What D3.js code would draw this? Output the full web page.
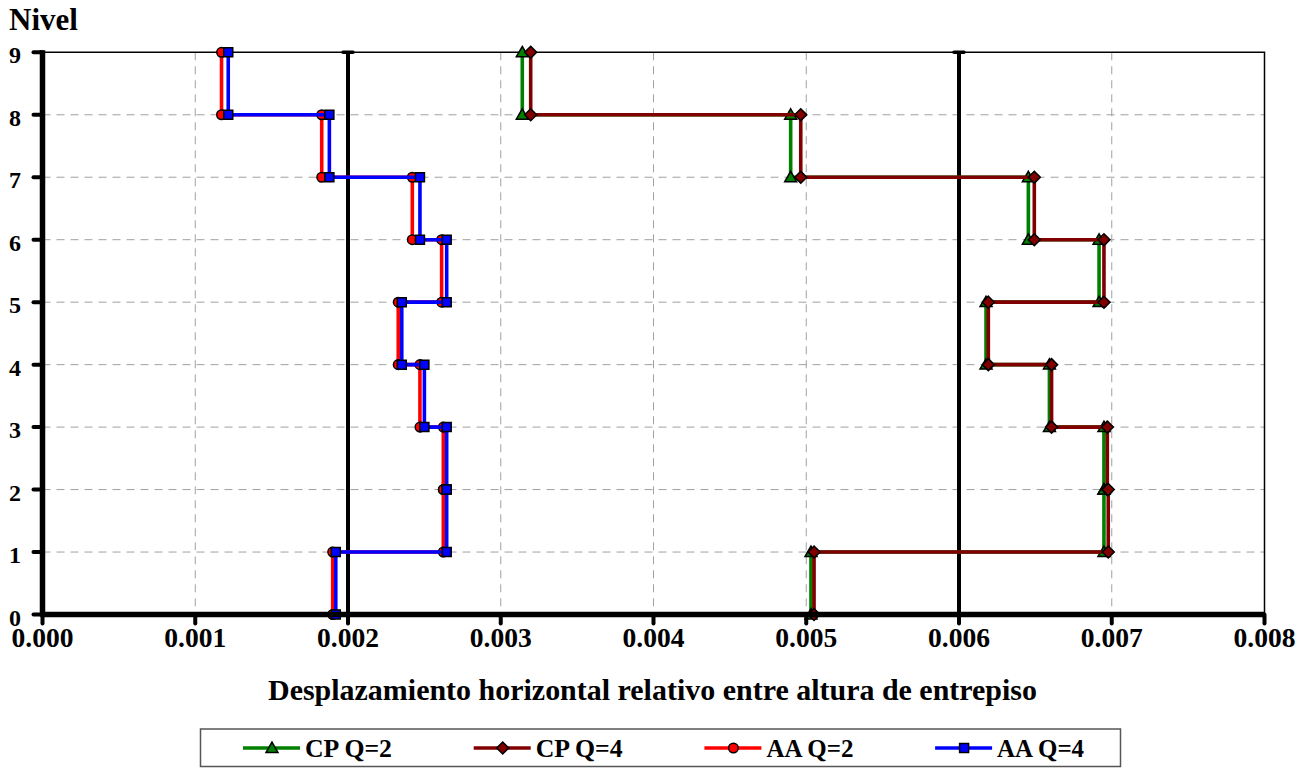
<!DOCTYPE html>
<html>
<head>
<meta charset="utf-8">
<script src="https://cdn.jsdelivr.net/npm/d3@7/dist/d3.min.js"></script>
<style>
  html, body { margin: 0; padding: 0; background: #fff; }
  svg { display: block; }
  text { font-family: "Liberation Serif", "Times New Roman", serif; font-weight: bold; fill: #000; }
</style>
</head>
<body>
<svg id="chart" width="1309" height="768"></svg>
<script>
// ---- Data (drift per story, stories 1..9) ----
const stories = [1, 2, 3, 4, 5, 6, 7, 8, 9];
const cpQ2 = [0.005031, 0.006949, 0.006949, 0.006592, 0.006177, 0.006917, 0.006454, 0.004898, 0.003141];
const cpQ4 = [0.005051, 0.006977, 0.006971, 0.006606, 0.006192, 0.006949, 0.006493, 0.004964, 0.003196];
const aaQ2 = [0.001900, 0.002624, 0.002624, 0.002471, 0.002329, 0.002613, 0.002421, 0.001828, 0.001172];
const aaQ4 = [0.001920, 0.002646, 0.002646, 0.002500, 0.002352, 0.002646, 0.002471, 0.001878, 0.001216];
const limits = [0.002, 0.006];
const xTicks = [0, 0.001, 0.002, 0.003, 0.004, 0.005, 0.006, 0.007, 0.008];
const yTicks = [0, 1, 2, 3, 4, 5, 6, 7, 8, 9];
const seriesNames = ["CP Q=2", "CP Q=4", "AA Q=2", "AA Q=4"];
const seriesColors = ["#008000", "#800000", "#ff0000", "#0000ff"];
const seriesMarkers = ["triangle", "diamond", "circle", "square"];
const seriesValues = [cpQ2, cpQ4, aaQ2, aaQ4];

const svg = d3.select("#chart");
const L = 42.5, R = 1264.5, T = 52.3, B = 614.5;
const x = d3.scaleLinear().domain([0, 0.008]).range([L, R]);
const y = d3.scaleLinear().domain([0, 9]).range([B, T]);

// gridlines
const grid = svg.append("g");
grid.selectAll("line.gx").data(xTicks.slice(1, -1)).enter().append("line")
  .attr("x1", d => x(d)).attr("x2", d => x(d)).attr("y1", T).attr("y2", B)
  .attr("stroke", "#a0a0a0").attr("stroke-width", 1).attr("stroke-dasharray", "8,6");
grid.selectAll("line.gy").data(yTicks.slice(1, -1)).enter().append("line")
  .attr("x1", L).attr("x2", R).attr("y1", d => y(d)).attr("y2", d => y(d))
  .attr("stroke", "#a0a0a0").attr("stroke-width", 1).attr("stroke-dasharray", "8,6");
// plot border top/right
svg.append("path").attr("d", `M${L},${T}H${R}V${B}`).attr("fill", "none")
  .attr("stroke", "#000").attr("stroke-width", 1.5);

// limit lines
const lim = svg.append("g");
limits.forEach(v => {
  lim.append("line").attr("x1", x(v)).attr("x2", x(v)).attr("y1", y(9)).attr("y2", y(0))
    .attr("stroke", "#000").attr("stroke-width", 4);
  lim.append("line").attr("x1", x(v) - 5).attr("x2", x(v) + 5).attr("y1", y(9)).attr("y2", y(9))
    .attr("stroke", "#000").attr("stroke-width", 3.5).attr("stroke-linecap", "round");
});

// series
function stepPoints(vals) {
  const pts = [];
  for (let i = stories.length - 1; i >= 0; i--) {
    pts.push([vals[i], stories[i]]);
    pts.push([vals[i], stories[i] - 1]);
  }
  return pts;
}
function markerPath(type) {
  if (type === "triangle") return d3.symbol().type(d3.symbolTriangle).size(62)();
  if (type === "diamond") return "M0,-6L6,0L0,6L-6,0Z";
  if (type === "circle") return d3.symbol().type(d3.symbolCircle).size(72)();
  return "M-4.5,-4.5H4.5V4.5H-4.5Z";
}
const line = d3.line().x(d => x(d[0])).y(d => y(d[1]));
seriesValues.forEach((vals, si) => {
  const g = svg.append("g");
  const pts = stepPoints(vals);
  g.append("path").attr("d", line(pts)).attr("fill", "none")
    .attr("stroke", seriesColors[si]).attr("stroke-width", 3.6).attr("stroke-linejoin", "miter");
  g.selectAll("path.m").data(pts).enter().append("path")
    .attr("transform", d => `translate(${x(d[0])},${y(d[1]) + (seriesMarkers[si] === "triangle" ? 1 : 0)})`)
    .attr("d", markerPath(seriesMarkers[si]))
    .attr("fill", seriesColors[si]).attr("stroke", "#000").attr("stroke-width", 1.5);
});

// axes
const axG = svg.append("g");
axG.append("line").attr("x1", L).attr("x2", L).attr("y1", T - 2).attr("y2", B + 2)
  .attr("stroke", "#000").attr("stroke-width", 5.5);
axG.append("line").attr("x1", L - 2).attr("x2", R).attr("y1", B).attr("y2", B)
  .attr("stroke", "#000").attr("stroke-width", 5.5);
axG.selectAll("line.ty").data(yTicks).enter().append("line")
  .attr("x1", L - 9).attr("x2", L).attr("y1", d => y(d)).attr("y2", d => y(d))
  .attr("stroke", "#000").attr("stroke-width", 4).attr("stroke-linecap", "round");
axG.selectAll("line.tx").data(xTicks).enter().append("line")
  .attr("x1", d => x(d)).attr("x2", d => x(d)).attr("y1", B).attr("y2", B + 9)
  .attr("stroke", "#000").attr("stroke-width", 4).attr("stroke-linecap", "round");

// tick labels
axG.selectAll("text.ly").data(yTicks).enter().append("text")
  .attr("x", 15).attr("y", d => y(d) + 11).attr("text-anchor", "middle")
  .attr("font-size", 24).text(d => d);
axG.selectAll("text.lx").data(xTicks).enter().append("text")
  .attr("x", d => x(d)).attr("y", 647).attr("text-anchor", "middle")
  .attr("font-size", 28).attr("textLength", 62).attr("lengthAdjust", "spacingAndGlyphs")
  .text(d => d3.format(".3f")(d));

// titles
svg.append("text").attr("x", 9).attr("y", 29.5).attr("font-size", 31).text("Nivel");
svg.append("text").attr("x", 268).attr("y", 700).attr("font-size", 29)
  .attr("textLength", 769).attr("lengthAdjust", "spacingAndGlyphs")
  .text("Desplazamiento horizontal relativo entre altura de entrepiso");

// legend
const lg = svg.append("g");
lg.append("rect").attr("x", 200.5).attr("y", 729).attr("width", 920).attr("height", 37.5)
  .attr("fill", "#fff").attr("stroke", "#555").attr("stroke-width", 1.5);
seriesNames.forEach((name, i) => {
  const tx = 305 + i * 230.7;
  const cy = 748;
  lg.append("line").attr("x1", tx - 62).attr("x2", tx - 5).attr("y1", cy).attr("y2", cy)
    .attr("stroke", seriesColors[i]).attr("stroke-width", 3.6);
  lg.append("path").attr("transform", `translate(${tx - 33},${cy + (seriesMarkers[i] === "triangle" ? 1 : 0)})`)
    .attr("d", markerPath(seriesMarkers[i]))
    .attr("fill", seriesColors[i]).attr("stroke", "#000").attr("stroke-width", 1.5);
  lg.append("text").attr("x", tx).attr("y", cy + 9).attr("font-size", 26)
    .attr("textLength", 87).attr("lengthAdjust", "spacingAndGlyphs").text(name);
});
</script>
</body>
</html>
